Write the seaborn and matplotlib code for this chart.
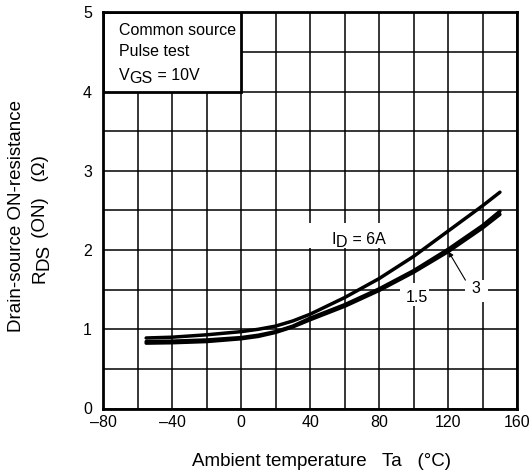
import numpy as np
import pandas as pd
import matplotlib.pyplot as plt
import seaborn as sns
from matplotlib.patches import Rectangle

sns.set_theme(style="white")
plt.rcParams["font.family"] = ["Liberation Sans", "DejaVu Sans"]
plt.rcParams["text.color"] = "black"
plt.rcParams["xtick.color"] = "black"
plt.rcParams["ytick.color"] = "black"

# data
temp = [-55, -40, -20, 0, 10, 20, 30, 40, 60, 80, 100, 120, 140, 150]
r_6a = [0.89, 0.90, 0.93, 0.97, 1.0, 1.04, 1.105, 1.19, 1.40, 1.64, 1.92, 2.24, 2.56, 2.73]
r_3a = [0.845, 0.85, 0.865, 0.895, 0.925, 0.97, 1.04, 1.14, 1.31, 1.51, 1.74, 2.01, 2.31, 2.49]
r_1p5a = [0.825, 0.83, 0.845, 0.88, 0.91, 0.96, 1.03, 1.12, 1.29, 1.49, 1.72, 1.98, 2.28, 2.45]
currents = ["6A", "3A", "1.5A"]

x_ticks = [-80, -40, 0, 40, 80, 120, 160]
x_labels = ["\u201380", "\u201340", "0", "40", "80", "120", "160"]
y_ticks = [0, 1, 2, 3, 4, 5]

df = pd.DataFrame({
    "Ta": temp * 3,
    "RDS": r_6a + r_3a + r_1p5a,
    "ID": [c for c in currents for _ in temp],
})

FS = 11.5
fig = plt.figure(figsize=(5.31, 4.75), dpi=100)
ax = fig.add_axes([0.194, 0.14, 0.78, 0.834])

sns.lineplot(data=df, x="Ta", y="RDS", hue="ID", sort=False,
             palette={c: "black" for c in currents}, linewidth=2.5,
             legend=False, ax=ax, zorder=2)

ax.set_xlim(-80, 160)
ax.set_ylim(0, 5)
ax.set_xticks(x_ticks)
ax.set_xticklabels(x_labels)
ax.set_xticks(np.arange(-60, 160, 40), minor=True)
ax.set_yticks(y_ticks)
ax.set_yticks(np.arange(0.5, 5, 1), minor=True)
ax.tick_params(which="both", length=0, labelsize=FS)
ax.tick_params(axis="x", pad=5)
ax.tick_params(axis="y", pad=8)
ax.set_axisbelow(True)
ax.grid(which="both", color="black", linewidth=1.1)
for s in ax.spines.values():
    s.set_color("black")
    s.set_linewidth(2)
ax.set_xlabel("")
ax.set_ylabel("")

# condition box in the top left corner
ax.add_patch(Rectangle((-80, 4), 80, 1, facecolor="white", edgecolor="black",
                       linewidth=2, zorder=1.5))
ax.text(-70.7, 4.71, "Common source", fontsize=FS, va="baseline")
ax.text(-70.7, 4.45, "Pulse test", fontsize=FS, va="baseline")


def chain(first, parts, rotated=False, fs=FS):
    prev = first
    for s, dy in parts:
        if rotated:
            prev = ax.annotate(s, xy=(1, 1), xycoords=prev, xytext=(dy, 0),
                               textcoords="offset points", rotation=90,
                               ha="right", va="bottom", fontsize=fs)
        else:
            prev = ax.annotate(s, xy=(1, 0), xycoords=prev, xytext=(0, dy),
                               textcoords="offset points",
                               ha="left", va="bottom", fontsize=fs)
    return prev


v = ax.text(-70.7, 4.15, "V", fontsize=FS, va="baseline")
chain(v, [("GS", -2.4), (" = 10V", 2.4)])

# white masks behind the curve labels
ax.add_patch(Rectangle((37, 2.02), 55, 0.32, facecolor="white", edgecolor="none", zorder=1))
ax.add_patch(Rectangle((92, 1.29), 17, 0.29, facecolor="white", edgecolor="none", zorder=1))
ax.add_patch(Rectangle((130, 1.35), 13, 0.27, facecolor="white", edgecolor="none", zorder=1))

i_lbl = ax.text(52.5, 2.08, "I", fontsize=FS, va="baseline")
chain(i_lbl, [("D", -2.4), (" = 6A", 2.4)])
ax.text(101.8, 1.395, "1.5", fontsize=FS, ha="center", va="center", zorder=3)
ax.text(136, 1.51, "3", fontsize=FS, ha="center", va="center", zorder=3)
ax.annotate("", xy=(120.2, 1.98), xytext=(130, 1.62),
            arrowprops=dict(arrowstyle="-|>", color="black", lw=0.8,
                            mutation_scale=7, shrinkA=0, shrinkB=0))

# axis titles
LFS = 13.5
ax.text(17 / 531, 1 - 216 / 475, "Drain-source ON-resistance", transform=fig.transFigure,
        rotation=90, ha="center", va="center", fontsize=LFS)
r = ax.text(49 / 531, 1 - 283 / 475, "R", transform=fig.transFigure,
            rotation=90, ha="right", va="bottom", fontsize=LFS)
chain(r, [("DS", 2.8), (" (ON)   (\u03a9)", -2.8)], rotated=True, fs=LFS)

fig.text(321 / 531, 1 - 461 / 475, "Ambient temperature   Ta   (\u00b0C)",
         ha="center", va="center", fontsize=LFS)

fig.savefig("out.png", dpi=100)
